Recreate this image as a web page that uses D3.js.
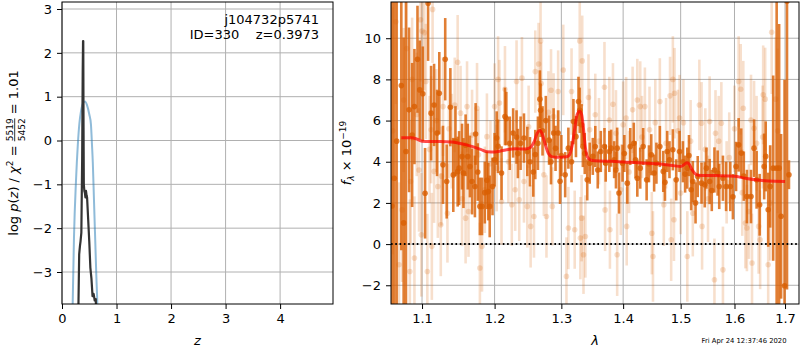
<!DOCTYPE html>
<html>
<head>
<meta charset="utf-8">
<script src="https://cdn.jsdelivr.net/npm/d3@7"></script>
<style>
  body { margin: 0; background: #fff; }
  svg { font-family: "DejaVu Sans", sans-serif; }
  text { white-space: pre; }
</style>
</head>
<body>
<svg id="fig" width="800" height="350"></svg>
<script>
// ---- p(z) panel data
var zGrid = [0.27,0.30,0.315,0.322,0.33,0.34,0.355,0.37,0.38,0.386,0.39,0.395,0.40,0.41,0.42,0.43,0.44,0.45,0.46,0.47,0.48,0.50,0.52,0.54,0.55,0.56,0.58,0.60,0.62,0.64];
var logPz = [-6,-3.9,-2.6,-2.5,-2.4,-2.3,-2.1,-0.4,1.6,2.27,2.27,0.3,-1.0,-1.15,-1.2,-1.3,-1.15,-1.25,-1.3,-1.55,-1.8,-2.3,-2.9,-3.15,-3.35,-3.55,-3.5,-3.65,-3.62,-5];
var zPrior = [0.17,0.196,0.22,0.257,0.29,0.318,0.35,0.39,0.422,0.46,0.50,0.53,0.55,0.565,0.585,0.605,0.63,0.648,0.67];
var logPrior = [-5.5,-3.73,-2.2,-0.91,-0.1,0.38,0.68,0.86,0.89,0.8,0.6,0.38,-0.1,-0.5,-1.3,-2.1,-3.1,-3.73,-5];
var zTicks = [0, 1, 2, 3, 4];
var pzTicks = [-3, -2, -1, 0, 1, 2, 3];

// ---- spectrum panel data (flux in units of 1e-19)
var darkLam = [1.061,1.064,1.067,1.073,1.076,1.079,1.083,1.087,1.090,1.094,
  1.097,1.101,1.104,1.108,1.112,1.116,1.120,1.123,1.128,1.131,
  1.133,1.138,1.142,1.145,1.148,1.150,1.154,1.156,1.159,1.162,
  1.165,1.168,1.172,1.173,1.176,1.179,1.182,1.186,1.189,1.191,
  1.193,1.197,1.200,1.203,1.205,1.210,1.215,1.217,1.222,1.227,
  1.232,1.234,1.238,1.243,1.248,1.252,1.257,1.260,1.264,1.267,
  1.268,1.271,1.276,1.281,1.284,1.288,1.291,1.295,1.298,1.300,
  1.306,1.311,1.316,1.319,1.323,1.327,1.329,1.332,1.334,1.337,
  1.341,1.345,1.350,1.354,1.358,1.363,1.369,1.371,1.377,1.380,
  1.385,1.388,1.390,1.393,1.399,1.402,1.407,1.412,1.418,1.421,
  1.424,1.429,1.434,1.440,1.444,1.448,1.453,1.457,1.463,1.469,
  1.472,1.476,1.480,1.486,1.492,1.498,1.504,1.508,1.512,1.515,
  1.519,1.522,1.527,1.531,1.538,1.544,1.547,1.553,1.557,1.562,
  1.568,1.571,1.578,1.584,1.592,1.597,1.603,1.608,1.613,1.618,
  1.624,1.632,1.638,1.643,1.649,1.658,1.661,1.666,1.670,1.676,
  1.683,1.688,1.692,1.699,1.704,1.708];
var darkFlux = [1.85,3.2,5.0,7.7,1.03,4.5,6.52,5.3,6.68,8.98,
  7.49,7.3,2.47,11.7,6.36,6.76,5.4,7.33,3.85,8.98,
  3.04,6.65,3.36,5.0,3.52,3.69,4.25,3.45,4.8,4.25,
  3.77,3.04,2.8,5.35,3.5,1.83,1.83,2.5,3.1,2.55,
  1.83,2.8,4.1,5.15,4.75,3.45,6.2,6.1,4.9,5.4,
  5.2,4.4,4.9,5.15,4.5,4.0,3.5,4.35,4.9,7.04,
  6.5,5.5,6.0,5.05,4.0,5.4,4.65,5.4,3.05,4.3,
  3.37,4.66,4.0,5.95,5.22,6.93,6.5,5.8,4.74,4.4,
  3.12,3.93,4.26,4.74,3.6,4.5,4.74,3.93,4.5,4.66,
  4.1,3.6,4.66,2.48,3.93,4.4,2.96,4.74,4.9,4.1,
  3.2,3.69,4.74,3.12,3.9,4.34,3.45,3.93,4.74,3.53,
  3.0,4.5,4.1,4.58,3.12,4.5,4.0,3.4,3.69,4.3,
  2.64,3.04,2.0,3.28,2.96,2.88,3.69,3.04,2.6,3.6,
  3.45,2.8,3.2,2.8,2.8,2.3,3.77,4.82,4.42,3.3,
  2.31,2.31,4.66,3.12,1.91,3.77,4.26,1.67,2.8,3.69,
  3.69,3.69,1.35,-2.02,11.8,3.37];
var darkErr = [12,9,14,8,9,11,4,3.5,2.8,2.6,
  2.4,2.3,2.2,2.8,2.3,2.0,2.1,2.0,1.9,2.0,
  1.8,1.9,1.8,1.7,1.7,1.8,1.6,1.7,1.5,1.6,
  1.5,1.6,1.5,1.5,1.4,1.4,1.4,1.5,1.4,1.4,
  1.5,1.4,1.3,1.3,1.3,1.3,1.4,1.3,1.3,1.2,
  1.3,1.2,1.3,1.2,1.2,1.2,1.2,1.2,1.3,1.4,
  1.3,1.2,1.2,1.2,1.1,1.2,1.1,1.1,1.1,1.0,
  1.1,1.0,1.0,1.1,1.0,1.2,1.1,1.0,1.0,1.0,
  1.0,1.0,0.9,1.0,0.9,1.0,0.9,0.9,1.0,0.9,
  0.9,0.9,1.0,1.0,0.9,0.9,1.0,0.9,1.0,0.9,
  0.9,1.0,0.9,1.0,0.9,1.0,0.9,1.0,1.0,1.0,
  0.9,1.0,0.9,1.0,1.0,1.0,1.0,0.9,1.0,1.0,
  1.0,1.0,1.0,1.0,1.0,1.1,1.0,1.1,1.0,1.1,
  1.1,1.1,1.1,1.2,1.2,1.1,1.2,1.3,1.2,1.2,
  1.3,1.3,1.4,1.4,1.5,1.6,1.7,1.8,2.0,4.5,
  9,7,4,10,14,0.7];

var lightLam = [1.062,1.066,1.070,1.074,1.076,1.080,1.084,1.085,1.087,1.090,
  1.093,1.096,1.098,1.099,1.100,1.103,1.105,1.107,1.110,1.112,
  1.113,1.114,1.116,1.119,1.121,1.125,1.126,1.128,1.134,1.136,
  1.140,1.144,1.148,1.152,1.154,1.159,1.161,1.163,1.168,1.175,
  1.177,1.179,1.182,1.186,1.189,1.194,1.200,1.203,1.205,1.207,
  1.210,1.215,1.220,1.225,1.230,1.232,1.236,1.240,1.243,1.248,
  1.250,1.253,1.258,1.260,1.265,1.268,1.269,1.273,1.277,1.280,
  1.284,1.286,1.288,1.295,1.303,1.308,1.311,1.316,1.321,1.329,
  1.330,1.332,1.333,1.335,1.338,1.343,1.345,1.354,1.360,1.369,
  1.370,1.377,1.378,1.383,1.388,1.390,1.396,1.400,1.405,1.406,
  1.410,1.416,1.424,1.429,1.432,1.437,1.445,1.449,1.451,1.455,
  1.463,1.470,1.474,1.481,1.483,1.486,1.488,1.489,1.495,1.498,
  1.500,1.505,1.512,1.518,1.522,1.534,1.538,1.539,1.545,1.550,
  1.553,1.562,1.564,1.570,1.575,1.578,1.585,1.590,1.600,1.608,
  1.612,1.615,1.617,1.621,1.624,1.628,1.632,1.634,1.638,1.643,
  1.647,1.650,1.655,1.656,1.660,1.666,1.670,1.673,1.681,1.685];
var lightFlux = [5.5,10.8,-1.0,1.66,7.0,9.5,-1.33,3.04,8.0,-0.68,
  6.3,3.6,10.9,0.45,10.35,10.27,7.9,-1.33,4.6,5.55,
  -0.11,11.4,3.53,6.0,2.8,0.94,3.3,6.68,1.5,5.6,
  5.0,6.76,8.83,6.36,2.2,1.26,6.68,1.58,5.3,6.6,
  4.34,-1.16,-0.11,2.64,5.22,3.9,6.68,3.69,8.0,6.85,
  2.07,7.52,4.0,1.91,2.64,7.9,2.15,8.06,3.04,1.83,
  5.7,0.86,1.34,8.38,8.75,9.87,7.8,3.37,1.34,6.4,
  7.47,1.83,6.2,7.41,8.46,-1.57,0.78,7.41,0.7,9.87,
  0.29,1.26,8.9,-0.52,0.37,7.12,5.55,6.28,5.0,7.62,
  1.66,6.03,0.7,6.79,5.38,-0.52,2.64,5.8,6.12,0.86,
  3.5,6.52,7.0,6.68,5.2,6.68,5.55,0.53,-0.6,5.9,
  6.93,1.91,4.9,7.2,0.21,8.0,1.18,7.33,5.5,6.12,
  2.48,5.9,-0.6,5.0,1.5,6.76,5.87,0.86,4.6,2.2,
  5.95,-1.73,5.38,5.0,5.87,-1.25,3.0,4.2,5.6,7.9,
  7.52,2.5,6.6,1.02,0.78,1.58,6.03,-0.92,5.63,4.9,
  0.86,0.21,5.2,7.25,7.04,-1.0,2.0,10.29,7.04,5.5];
var lightErr = [6,4,4,3.5,3.5,3.5,3.5,3,3,3,
  3,3,3,3,3,2.8,2.8,2.8,2.6,2.6,
  2.6,2.6,2.5,2.5,2.5,2.5,2.4,2.4,2.4,2.4,
  2.3,2.3,2.3,2.3,2.3,2.2,2.2,2.2,2.2,2.2,
  2.2,2.2,2.2,2.1,2.1,2.1,2.1,2.1,2.1,2.1,
  2.1,2.1,2.0,2.0,2.0,2.0,2.0,2.0,2.0,2.0,
  2.0,2.0,2.0,2.0,2.0,2.2,2.0,2.0,2.0,2.0,
  2.0,1.9,2.1,2.0,2.2,1.9,2.0,2.1,1.9,2.3,
  2.0,2.1,2.2,1.9,2.0,2.1,2.0,2.0,2.1,2.2,
  2.0,2.1,1.9,2.0,2.1,2.0,2.2,2.1,2.0,1.9,
  2.0,2.1,2.0,2.2,2.0,1.9,2.1,2.0,2.2,2.1,
  2.1,2.0,2.2,1.9,2.0,2.1,2.0,2.2,2.0,2.1,
  2.0,2.1,2.2,2.0,2.1,2.2,2.0,2.1,2.0,2.1,
  2.2,2.0,2.1,2.2,2.0,2.1,2.0,2.2,2.1,2.2,
  2.2,2.1,2.3,2.2,2.1,2.3,2.2,2.4,2.3,2.3,
  2.3,2.4,2.5,2.4,2.5,2.6,2.8,3.0,3.0,4.0];

var modelLam = [1.073,1.085,1.092,1.100,1.110,1.125,1.140,1.150,1.160,1.170,
  1.180,1.190,1.200,1.210,1.220,1.230,1.245,1.252,1.258,1.263,
  1.267,1.271,1.275,1.280,1.285,1.292,1.300,1.308,1.313,1.317,
  1.321,1.325,1.329,1.332,1.335,1.338,1.342,1.347,1.354,1.380,
  1.420,1.460,1.490,1.500,1.506,1.511,1.515,1.520,1.526,1.532,
  1.560,1.600,1.620,1.650,1.680,1.700];
var modelFlux = [5.17,5.16,5.12,5.0,4.98,4.98,4.96,4.9,4.82,4.72,
  4.6,4.48,4.47,4.53,4.6,4.63,4.62,4.68,4.95,5.4,
  5.52,5.3,4.85,4.4,4.25,4.22,4.22,4.24,4.35,4.8,
  5.6,6.3,6.45,6.3,5.6,4.7,4.2,4.08,4.05,4.02,
  3.96,3.9,3.8,3.77,3.85,3.95,3.9,3.65,3.42,3.35,
  3.33,3.3,3.2,3.1,3.05,3.04];
var lamTicks = [1.1, 1.2, 1.3, 1.4, 1.5, 1.6, 1.7];
var fluxTicks = [-2, 0, 2, 4, 6, 8, 10];

var objName = "j104732p5741";
var objInfo = "ID=330    z=0.3973";
var stamp = "Fri Apr 24 12:37:46 2020";

// ---- layout
var left = {x0: 62, x1: 333, y0: 2, y1: 304},
    right = {x0: 391, x1: 799, y0: 2, y1: 304};
var orange = "#d95f02";
var fs = 13;

var svg = d3.select("#fig");

var zx = d3.scaleLinear().domain([0, 4.97]).range([left.x0, left.x1]);
var zy = d3.scaleLinear().domain([-3.73, 3.16]).range([left.y1, left.y0]);
var lx = d3.scaleLog().domain([1.0598, 1.7287]).range([right.x0, right.x1]);
var ly = d3.scaleLinear().domain([-2.91, 11.76]).range([right.y1, right.y0]);

function clip(id, b) {
  svg.append("clipPath").attr("id", id).append("rect")
    .attr("x", b.x0).attr("y", b.y0).attr("width", b.x1 - b.x0).attr("height", b.y1 - b.y0);
}
clip("clipL", left);
clip("clipR", right);

function grid(b, xs, xt, ys, yt) {
  var g = svg.append("g").attr("stroke", "#b0b0b0").attr("stroke-width", 1);
  xt.forEach(function(t) {
    g.append("line").attr("x1", xs(t)).attr("x2", xs(t)).attr("y1", b.y0).attr("y2", b.y1);
  });
  yt.forEach(function(t) {
    g.append("line").attr("x1", b.x0).attr("x2", b.x1).attr("y1", ys(t)).attr("y2", ys(t));
  });
}

function axes(b, xs, xt, xf, ys, yt, yf) {
  var ax = svg.append("g").attr("transform", "translate(0," + b.y1 + ")")
    .call(d3.axisBottom(xs).tickValues(xt).tickFormat(xf).tickSize(5).tickPadding(5));
  var ay = svg.append("g").attr("transform", "translate(" + b.x0 + ",0)")
    .call(d3.axisLeft(ys).tickValues(yt).tickFormat(yf).tickSize(5).tickPadding(5));
  [ax, ay].forEach(function(a) {
    a.select(".domain").remove();
    a.selectAll("text").style("font-size", fs + "px").attr("fill", "#000")
      .style("font-family", "DejaVu Sans");
    a.selectAll("line").attr("stroke", "#000");
  });
  svg.append("rect").attr("x", b.x0).attr("y", b.y0)
    .attr("width", b.x1 - b.x0).attr("height", b.y1 - b.y0)
    .attr("fill", "none").attr("stroke", "#000").attr("stroke-width", 1);
}

// lays out a math-like label from pieces, returns its width
function mathText(g, parts) {
  var x = 0;
  parts.forEach(function(p) {
    if (p.frac) {
      var n = g.append("text").attr("x", x).attr("y", -5).style("font-size", "9px").text(p.frac[0]);
      var d = g.append("text").attr("x", x).attr("y", 7).style("font-size", "9px").text(p.frac[1]);
      var w = Math.max(n.node().getComputedTextLength(), d.node().getComputedTextLength());
      g.append("line").attr("x1", x).attr("x2", x + w).attr("y1", -3.3).attr("y2", -3.3)
        .attr("stroke", "#000").attr("stroke-width", 0.8);
      x += w;
    } else {
      var t = g.append("text").attr("x", x).attr("y", p.dy || 0)
        .style("font-size", (p.size || fs) + "px")
        .style("font-style", p.it ? "italic" : "normal").text(p.t);
      x += t.node().getComputedTextLength();
    }
  });
  return x;
}

// ===== left panel: p(z)
grid(left, zx, zTicks, zy, pzTicks);

var gL = svg.append("g").attr("clip-path", "url(#clipL)");
gL.append("path").datum(d3.zip(zPrior, logPrior))
  .attr("d", d3.line().x(function(d) { return zx(d[0]); }).y(function(d) { return zy(d[1]); })
    .curve(d3.curveMonotoneX))
  .attr("fill", "none").attr("stroke", "#1f77b4").attr("stroke-opacity", 0.5).attr("stroke-width", 2);
gL.append("path").datum(d3.zip(zGrid, logPz))
  .attr("d", d3.line().x(function(d) { return zx(d[0]); }).y(function(d) { return zy(d[1]); }))
  .attr("fill", "none").attr("stroke", "#333").attr("stroke-width", 2.2).attr("stroke-linejoin", "round");

axes(left, zx, zTicks, d3.format("d"), zy, pzTicks, d3.format("d"));

svg.append("text").attr("x", 319).attr("y", 24).attr("text-anchor", "end")
  .style("font-size", fs + "px").text(objName);
svg.append("text").attr("x", 319).attr("y", 39).attr("text-anchor", "end")
  .style("font-size", fs + "px").text(objInfo);

var yl = svg.append("g");
var wl = mathText(yl, [
  {t: "log "}, {t: "p", it: true}, {t: "("}, {t: "z", it: true}, {t: ") / "},
  {t: "χ", it: true}, {t: "2", size: 9, dy: -5}, {t: " = "},
  {frac: ["5519", "5452"]}, {t: " = 1.01"}
]);
yl.attr("transform", "translate(18," + ((left.y0 + left.y1) / 2 + wl / 2) + ") rotate(-90)");

svg.append("text").attr("x", (left.x0 + left.x1) / 2).attr("y", 345).attr("text-anchor", "middle")
  .style("font-size", fs + "px").style("font-style", "italic").text("z");

// ===== right panel: spectrum
grid(right, lx, lamTicks, ly, fluxTicks);

var gR = svg.append("g").attr("clip-path", "url(#clipR)");

// translucent points first, then the solid ones
var lightPts = d3.zip(lightLam, lightFlux, lightErr);
var g1 = gR.append("g");
g1.selectAll("line").data(lightPts).enter().append("line")
  .attr("x1", function(d) { return lx(d[0]); }).attr("x2", function(d) { return lx(d[0]); })
  .attr("y1", function(d) { return ly(d[1] - d[2]); }).attr("y2", function(d) { return ly(d[1] + d[2]); })
  .attr("stroke", orange).attr("stroke-opacity", 0.2).attr("stroke-width", 2.6);
g1.selectAll("circle").data(lightPts).enter().append("circle")
  .attr("cx", function(d) { return lx(d[0]); }).attr("cy", function(d) { return ly(d[1]); })
  .attr("r", 2.8).attr("fill", orange).attr("fill-opacity", 0.2);

var darkPts = d3.zip(darkLam, darkFlux, darkErr);
var g2 = gR.append("g");
g2.selectAll("line").data(darkPts).enter().append("line")
  .attr("x1", function(d) { return lx(d[0]); }).attr("x2", function(d) { return lx(d[0]); })
  .attr("y1", function(d) { return ly(d[1] - d[2]); }).attr("y2", function(d) { return ly(d[1] + d[2]); })
  .attr("stroke", orange).attr("stroke-opacity", 0.8).attr("stroke-width", 2.6);
g2.selectAll("circle").data(darkPts).enter().append("circle")
  .attr("cx", function(d) { return lx(d[0]); }).attr("cy", function(d) { return ly(d[1]); })
  .attr("r", 2.8).attr("fill", orange).attr("fill-opacity", 0.8);

// model
gR.append("path").datum(d3.zip(modelLam, modelFlux))
  .attr("d", d3.line().x(function(d) { return lx(d[0]); }).y(function(d) { return ly(d[1]); })
    .curve(d3.curveMonotoneX))
  .attr("fill", "none").attr("stroke", "red").attr("stroke-opacity", 0.7).attr("stroke-width", 3);

// zero line
gR.append("line").attr("x1", right.x0).attr("x2", right.x1).attr("y1", ly(0)).attr("y2", ly(0))
  .attr("stroke", "#000").attr("stroke-width", 2).attr("stroke-dasharray", "1.6,2.7");

axes(right, lx, lamTicks, d3.format(".1f"), ly, fluxTicks, d3.format("d"));

var yr = svg.append("g");
var wr = mathText(yr, [
  {t: "f", it: true}, {t: "λ", it: true, size: 9, dy: 3}, {t: " × 10"}, {t: "−19", size: 9, dy: -5.5}
]);
yr.attr("transform", "translate(351," + ((right.y0 + right.y1) / 2 + wr / 2) + ") rotate(-90)");

svg.append("text").attr("x", (right.x0 + right.x1) / 2).attr("y", 345).attr("text-anchor", "middle")
  .style("font-size", fs + "px").style("font-style", "italic").text("λ");

svg.append("text").attr("x", 744).attr("y", 343).attr("text-anchor", "middle")
  .style("font-size", "6.8px").text(stamp);
</script>
</body>
</html>
